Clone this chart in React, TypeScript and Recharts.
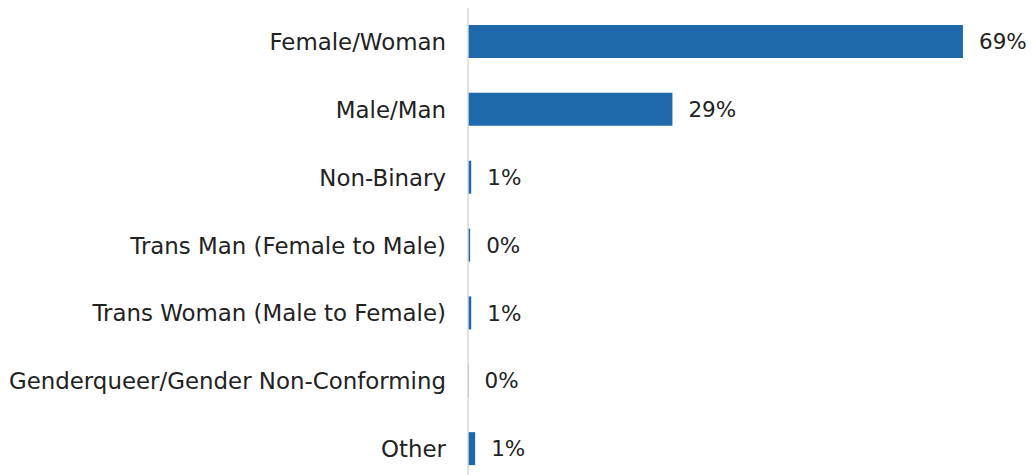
import { BarChart, Bar, XAxis, YAxis, LabelList } from "recharts";

const categories = [
  "Female/Woman",
  "Male/Man",
  "Non-Binary",
  "Trans Man (Female to Male)",
  "Trans Woman (Male to Female)",
  "Genderqueer/Gender Non-Conforming",
  "Other",
];
const shares = [69, 28.5, 0.45, 0.3, 0.45, 0.08, 1.0];
const shareLabels = ["69%", "29%", "1%", "0%", "1%", "0%", "1%"];

const BAR_COLOR = "#1d69ab";
const TEXT_COLOR = "#222222";
const FONT = "'DejaVu Sans', Verdana, sans-serif";

const data = categories.map((name, i) => ({
  name,
  value: shares[i],
  label: shareLabels[i],
}));

export default function App() {
  return (
    <div
      style={{
        position: "absolute",
        top: 0,
        left: 0,
        width: 1034,
        height: 475,
        overflow: "hidden",
        background: "#fff",
      }}
    >
      <BarChart
        layout="vertical"
        width={1034}
        height={483}
        data={data}
        margin={{ top: 8, right: 28, bottom: 0, left: 0 }}
      >
        <XAxis type="number" domain={[0, 75]} hide />
        <YAxis
          type="category"
          dataKey="name"
          width={468}
          axisLine={{ stroke: "#d9d9d9", strokeWidth: 1.5 }}
          tickLine={false}
          tickSize={0}
          tickMargin={22}
          interval={0}
          tick={{ fontFamily: FONT, fontSize: 22.9, fill: TEXT_COLOR }}
        />
        <Bar
          dataKey="value"
          fill={BAR_COLOR}
          barSize={33}
          isAnimationActive={false}
        >
          <LabelList
            dataKey="label"
            position="right"
            offset={16}
            style={{ fontFamily: FONT, fontSize: 21.5, fill: TEXT_COLOR }}
          />
        </Bar>
      </BarChart>
    </div>
  );
}
